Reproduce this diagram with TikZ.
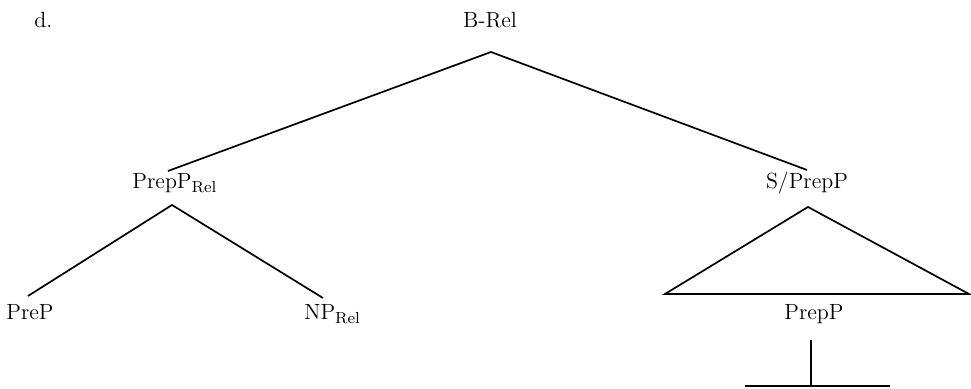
\documentclass[tikz,border=0pt]{standalone}
\begin{document}
\begin{tikzpicture}[x=0.5pt,y=-0.5pt,
  lbl/.style={inner sep=0pt, anchor=base, font=\fontsize{11}{13}\selectfont},
  edge/.style={line width=0.85pt, line join=miter}]
\useasboundingbox (0,0) rectangle (971,389);

% labels
\node[lbl, anchor=base west] (tag)   at (34,28)   {d.};
\node[lbl]                   (brel)  at (490,28)  {B-Rel};
\node[lbl, anchor=base west] (pprel) at (132,189) {PrepP$_{\mathrm{Rel}}$};
\node[lbl]                   (spp)   at (807,189) {S/PrepP};
\node[lbl]                   (prep)  at (30,320)  {PreP};
\node[lbl, anchor=base west] (nprel) at (304,320) {NP$_{\mathrm{Rel}}$};
\node[lbl]                   (pp)    at (814,320) {PrepP};

% branch points
\coordinate (brel-fork)  at (491,52);
\coordinate (pprel-in)   at (168,171);
\coordinate (spp-in)     at (807,170);
\coordinate (pprel-fork) at (172,205);
\coordinate (prep-in)    at (28,296);
\coordinate (nprel-in)   at (323,298);
\coordinate (tri-top)    at (808,207);
\coordinate (tri-left)   at (665,294);
\coordinate (tri-right)  at (969,294);
\coordinate (pp-fork)    at (811,340);
\coordinate (bar-mid)    at (811,386);
\coordinate (bar-left)   at (745,386);
\coordinate (bar-right)  at (890,386);

% branches
\draw[edge] (pprel-in) -- (brel-fork) -- (spp-in);
\draw[edge] (prep-in) -- (pprel-fork) -- (nprel-in);
\draw[edge] (tri-top) -- (tri-left) -- (tri-right) -- cycle;
\draw[edge] (pp-fork) -- (bar-mid);
\draw[edge] (bar-left) -- (bar-right);
\end{tikzpicture}
\end{document}
